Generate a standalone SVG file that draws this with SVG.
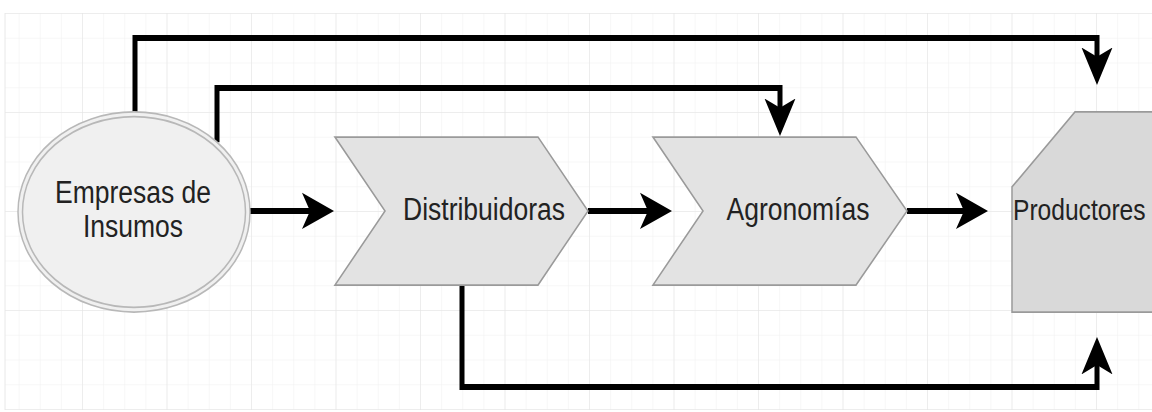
<svg xmlns="http://www.w3.org/2000/svg" width="1152" height="412" viewBox="0 0 1152 412">
  <defs>
    <pattern id="gridMinor" patternUnits="userSpaceOnUse" x="-2.5" y="13" width="21.125" height="24.75">
      <path d="M0,0 L21.125,0 M0,0 L0,24.75" stroke="#f0f0f0" stroke-width="1" fill="none"/>
    </pattern>
    <pattern id="gridMajor" patternUnits="userSpaceOnUse" x="-2.5" y="13" width="84.5" height="99">
      <path d="M0,0 L84.5,0 M0,0 L0,99" stroke="#e4e4e4" stroke-width="1" fill="none"/>
    </pattern>
    <marker id="arrow" markerUnits="userSpaceOnUse" viewBox="0 0 32 32" markerWidth="32" markerHeight="32" refX="20" refY="16" orient="auto">
      <path d="M32,16 L0,0.5 L8,16 L0,31.5 Z" fill="#000"/>
    </marker>
    <style>
      .conn { fill: none; stroke: #000; stroke-width: 5; marker-end: url(#arrow); }
      .chev { fill: #e3e3e3; stroke: #9a9a9a; stroke-width: 1.5; }
      .label { font-family: "Liberation Sans", Arial, sans-serif; font-size: 26.5px; fill: #222; }
    </style>
  </defs>

  <rect x="0" y="0" width="1152" height="412" fill="#ffffff"/>
  <g id="grid">
    <rect x="5" y="13" width="1147" height="397" fill="url(#gridMinor)"/>
    <rect x="5" y="13" width="1147" height="397" fill="url(#gridMajor)"/>
    <line x1="5" y1="13" x2="5" y2="410" stroke="#e8e8e8" stroke-width="1"/>
  </g>

  <g transform="matrix(1,0,0,1.17,0,0)">
    <g id="connectors">
      <path class="conn" d="M135,95.7 L135,32.5 L1097,32.5 L1097,60.6"/>
      <path class="conn" d="M217,121.5 L217,75.2 L780,75.2 L780,104.2"/>
      <path class="conn" d="M250,180.3 L322,180.3"/>
      <path class="conn" d="M588,180.3 L660,180.3"/>
      <path class="conn" d="M907,180.3 L976,180.3"/>
      <path class="conn" d="M462,243.6 L462,330.8 L1097,330.8 L1097,300"/>
    </g>

    <g id="empresas">
      <ellipse cx="134" cy="181.2" rx="116" ry="85.5" fill="#f0f0f0" stroke="#b8b8b8" stroke-width="1.5"/>
      <ellipse cx="134" cy="181.2" rx="111.5" ry="81.5" fill="#f0f0f0" stroke="#b8b8b8" stroke-width="1.5"/>
      <text class="label" x="133" y="173.5" text-anchor="middle">Empresas de</text>
      <text class="label" x="133" y="202.6" text-anchor="middle">Insumos</text>
    </g>

    <g id="distribuidoras">
      <polygon class="chev" points="335,117.1 538,117.1 588,180.3 538,243.6 335,243.6 385,180.3"/>
      <text class="label" x="484" y="188" text-anchor="middle">Distribuidoras</text>
    </g>

    <g id="agronomias">
      <polygon class="chev" points="653,117.1 856,117.1 907,180.3 856,243.6 653,243.6 703,180.3"/>
      <text class="label" x="798" y="188" text-anchor="middle">Agronomías</text>
    </g>

    <g id="productores">
      <polygon points="1012,159.8 1075,95.7 1160,95.7 1160,266.7 1012,266.7" fill="#d9d9d9" stroke="#9a9a9a" stroke-width="1.5"/>
      <text class="label" x="1013" y="188" style="font-size:24.6px">Productores</text>
    </g>
  </g>
</svg>
